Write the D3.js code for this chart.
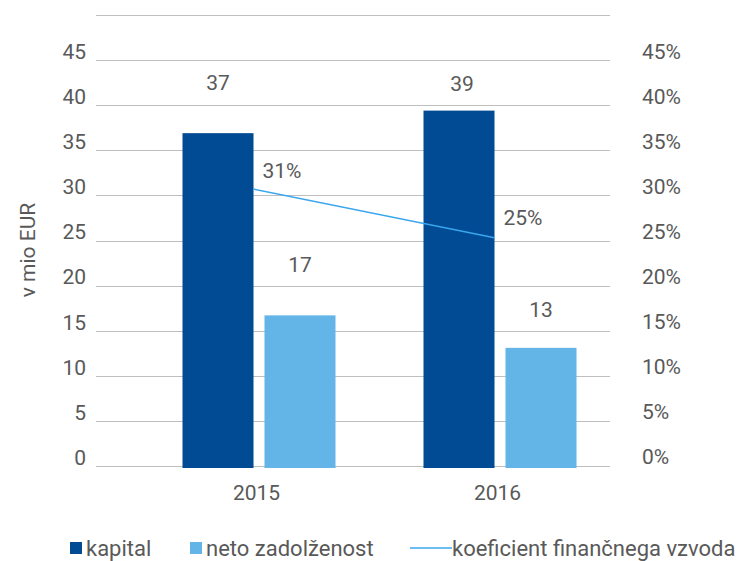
<!DOCTYPE html>
<html>
<head>
<meta charset="utf-8">
<script src="https://cdn.jsdelivr.net/npm/d3@7"></script>
<style>
  body { margin: 0; background: #fff; }
  svg { font-family: Roboto, "Open Sans", sans-serif; }
</style>
</head>
<body>
<div id="chart"></div>
<script>
// data
const years = ["2015", "2016"];
const series = ["kapital", "neto zadolženost"];
const kapital = [36.9, 39.4];
const netoZadolzenost = [16.7, 13.1];
const koeficient = [30.7, 25.3];
const kapitalLabels = ["37", "39"];
const netoLabels = ["17", "13"];
const koefLabels = ["31%", "25%"];
const leftTicks = [0, 5, 10, 15, 20, 25, 30, 35, 40, 45];
const rightTicks = [0, 5, 10, 15, 20, 25, 30, 35, 40, 45];

const width = 741, height = 561;
const plot = { left: 96, right: 610, top: 15, bottom: 466 };
const fontSize = "21px";

const svg = d3.select("#chart").append("svg")
    .attr("width", width)
    .attr("height", height);

// scales
const y = d3.scaleLinear().domain([0, 50]).range([plot.bottom, plot.top]);
const yPct = d3.scaleLinear().domain([0, 50]).range([plot.bottom, plot.top]);
const x = d3.scalePoint().domain(years).range([255.5, 496.5]);
const xSub = d3.scaleBand().domain(series).range([-73, 80]).paddingInner(0.134);

const colors = { "kapital": "#004B93", "neto zadolženost": "#63B5E7" };
const lineColor = "#3AA6EE";
const textColor = "#595959";

// gridlines
svg.append("g")
    .selectAll("line")
    .data(d3.range(0, 55, 5))
    .join("line")
    .attr("x1", plot.left)
    .attr("x2", plot.right)
    .attr("y1", d => Math.round(y(d)) + 0.5)
    .attr("y2", d => Math.round(y(d)) + 0.5)
    .attr("stroke", "#bfbfbf")
    .attr("stroke-width", 1);

// left axis
const leftAxis = svg.append("g")
    .attr("transform", `translate(${86}, 0)`)
    .call(d3.axisLeft(y).tickValues(leftTicks).tickSize(0).tickPadding(0));
leftAxis.select(".domain").remove();
leftAxis.selectAll("text")
    .attr("dy", "-0.08em")
    .style("font-size", fontSize)
    .style("font-family", "Roboto")
    .attr("fill", textColor);

// right axis
const rightAxis = svg.append("g")
    .attr("transform", `translate(${642}, 0)`)
    .call(d3.axisRight(yPct).tickValues(rightTicks).tickFormat(d => d + "%").tickSize(0).tickPadding(0));
rightAxis.select(".domain").remove();
rightAxis.selectAll("text")
    .attr("dy", "-0.1em")
    .style("font-size", fontSize)
    .style("font-family", "Roboto")
    .attr("fill", textColor);

// bars
const barData = years.map((yr, i) => [
    { year: yr, key: "kapital", value: kapital[i] },
    { year: yr, key: "neto zadolženost", value: netoZadolzenost[i] }
]).flat();

svg.append("g")
    .selectAll("rect")
    .data(barData)
    .join("rect")
    .attr("x", d => x(d.year) + xSub(d.key))
    .attr("width", xSub.bandwidth())
    .attr("y", d => y(d.value))
    .attr("height", d => y(0) - y(d.value) + 2)
    .attr("fill", d => colors[d.key]);

// ratio line
const line = d3.line()
    .x((d, i) => x(years[i]) - 2)
    .y(d => yPct(d));

svg.append("path")
    .datum(koeficient)
    .attr("d", line)
    .attr("fill", "none")
    .attr("stroke", lineColor)
    .attr("stroke-width", 1.5);

// data labels (lift above the mark in px, as placed in the original)
const kapitalLift = [50, 27];
const netoLift = [50, 38];
const koefLift = [18, 20];

const labels = svg.append("g")
    .style("font-size", fontSize)
    .attr("fill", textColor)
    .attr("dominant-baseline", "central");

labels.selectAll(".lk")
    .data(kapital)
    .join("text")
    .attr("text-anchor", "middle")
    .attr("x", (d, i) => x(years[i]) + xSub("kapital") + xSub.bandwidth() / 2 + (i ? 3 : 0))
    .attr("y", (d, i) => y(d) - kapitalLift[i])
    .text((d, i) => kapitalLabels[i]);

labels.selectAll(".ln")
    .data(netoZadolzenost)
    .join("text")
    .attr("text-anchor", "middle")
    .attr("x", (d, i) => x(years[i]) + xSub("neto zadolženost") + xSub.bandwidth() / 2)
    .attr("y", (d, i) => y(d) - netoLift[i])
    .text((d, i) => netoLabels[i]);

labels.selectAll(".lp")
    .data(koeficient)
    .join("text")
    .attr("text-anchor", "start")
    .attr("x", (d, i) => x(years[i]) + 7)
    .attr("y", (d, i) => yPct(d) - koefLift[i])
    .text((d, i) => koefLabels[i]);

// category labels
svg.append("g")
    .selectAll("text")
    .data(years)
    .join("text")
    .attr("x", d => x(d) + 1)
    .attr("y", 493)
    .attr("text-anchor", "middle")
    .attr("dominant-baseline", "central")
    .style("font-size", fontSize)
    .attr("fill", textColor)
    .text(d => d);

// axis title
svg.append("text")
    .attr("transform", "rotate(-90)")
    .attr("x", -250)
    .attr("y", 28)
    .attr("text-anchor", "middle")
    .attr("dominant-baseline", "central")
    .style("font-size", fontSize)
    .attr("fill", textColor)
    .text("v mio EUR");

// legend
const legend = svg.append("g")
    .style("font-size", "22px")
    .attr("fill", textColor);

const legendY = 548;
legend.append("rect").attr("x", 70).attr("y", legendY - 6).attr("width", 12).attr("height", 12).attr("fill", colors["kapital"]);
legend.append("text").attr("x", 86).attr("y", legendY).attr("dominant-baseline", "central").text("kapital");
legend.append("rect").attr("x", 190).attr("y", legendY - 6).attr("width", 12).attr("height", 12).attr("fill", colors["neto zadolženost"]);
legend.append("text").attr("x", 206).attr("y", legendY).attr("dominant-baseline", "central").text("neto zadolženost");
legend.append("line").attr("x1", 410).attr("x2", 452).attr("y1", legendY).attr("y2", legendY).attr("stroke", lineColor).attr("stroke-width", 1.5);
legend.append("text").attr("x", 452).attr("y", legendY).attr("dominant-baseline", "central").text("koeficient finančnega vzvoda");
</script>
</body>
</html>
